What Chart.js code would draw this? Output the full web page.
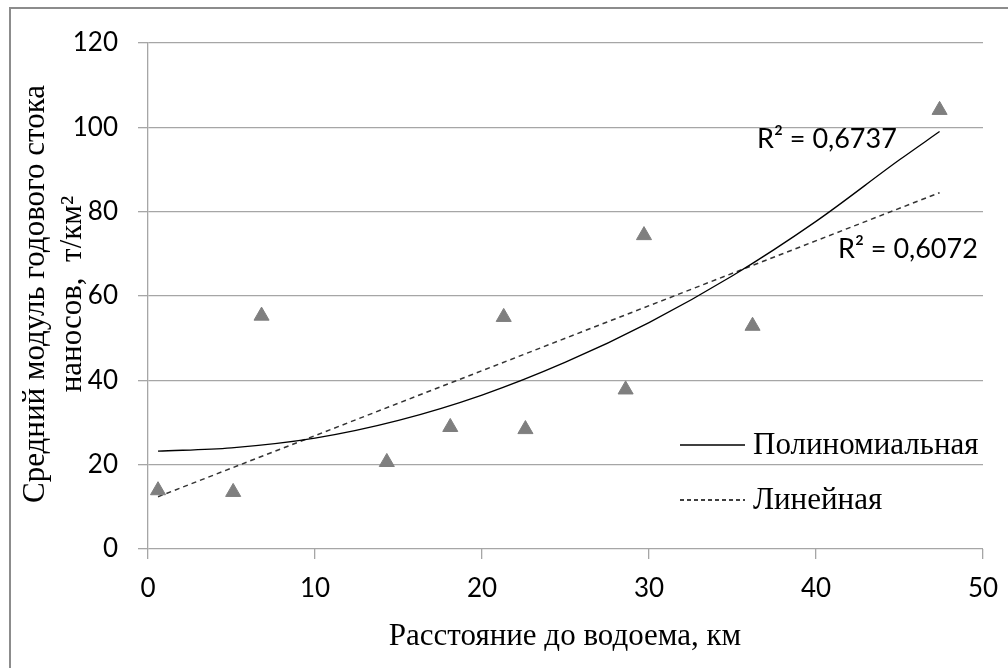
<!DOCTYPE html>
<html>
<head>
<meta charset="utf-8">
<script src="https://cdn.jsdelivr.net/npm/chart.js@4/dist/chart.umd.min.js"></script>
<style>
  html, body { margin: 0; padding: 0; background: #fff; }
  #wrap { width: 1008px; height: 668px; position: relative; }
</style>
</head>
<body>
<div id="wrap"><canvas id="chart"></canvas></div>
<script>
// measured points (distance, km -> sediment yield, t/km2)
const distKm = [0.6, 5.1, 6.8, 14.3, 18.1, 21.3, 22.6, 28.6, 29.7, 36.2, 47.4];
const yieldT = [13.9, 13.5, 55.3, 20.6, 28.9, 55.0, 28.4, 37.8, 74.4, 52.9, 104.1];

// trend lines
const polyX = [0.6, 5, 10, 15, 20, 25, 30, 35, 40, 45, 47.4];
const polyY = [23.2, 24.0, 26.3, 30.5, 36.5, 44.3, 53.7, 64.8, 77.7, 92.3, 99.0];
const linX = [0.6, 47.4];
const linY = [12.4, 84.5];

const xTicks = [0, 10, 20, 30, 40, 50];
const yTicks = [0, 20, 40, 60, 80, 100, 120];

const r2Poly = 'R² = 0,6737';
const r2Lin = 'R² = 0,6072';
const legendNames = ['Полиномиальная', 'Линейная'];
const xTitle = 'Расстояние до водоема, км';
const yTitle = ['Средний модуль годового стока', 'наносов,  т/км²'];

const toXY = (xs, ys) => xs.map((x, i) => ({ x: x, y: ys[i] }));

const serif = '"Liberation Serif", "Times New Roman", serif';
const sans = 'Lato, "Open Sans", sans-serif';
const gridGray = '#a6a6a6';

const extras = {
  id: 'extras',
  afterDraw(chart) {
    const ctx = chart.ctx;
    ctx.save();
    // outer frame
    ctx.strokeStyle = '#8c8c8c';
    ctx.lineWidth = 2;
    ctx.beginPath();
    ctx.moveTo(10, 668);
    ctx.lineTo(10, 8);
    ctx.lineTo(1008, 8);
    ctx.stroke();

    ctx.fillStyle = '#000';
    // x title
    ctx.font = '31px ' + serif;
    ctx.textAlign = 'center';
    ctx.textBaseline = 'alphabetic';
    ctx.fillText(xTitle, 565, 645);

    // y title, two rotated lines
    ctx.save();
    ctx.translate(44, 294);
    ctx.rotate(-Math.PI / 2);
    ctx.fillText(yTitle[0], 0, 0);
    ctx.fillText(yTitle[1], 0, 37);
    ctx.restore();

    // R² labels
    ctx.font = '27px ' + sans;
    ctx.textAlign = 'left';
    ctx.textBaseline = 'middle';
    ctx.fillText(r2Poly, 757, 139);
    ctx.fillText(r2Lin, 838, 249);

    // legend
    ctx.font = '31px ' + serif;
    ctx.strokeStyle = '#000';
    ctx.lineWidth = 1.3;
    ctx.beginPath();
    ctx.moveTo(680, 445);
    ctx.lineTo(745, 445);
    ctx.stroke();
    ctx.setLineDash([4, 3]);
    ctx.beginPath();
    ctx.moveTo(680, 500);
    ctx.lineTo(745, 500);
    ctx.stroke();
    ctx.setLineDash([]);
    ctx.fillText(legendNames[0], 753, 446);
    ctx.fillText(legendNames[1], 753, 501);
    ctx.restore();
  }
};

new Chart(document.getElementById('chart'), {
  type: 'scatter',
  data: {
    datasets: [
      {
        label: 'points',
        data: toXY(distKm, yieldT),
        pointStyle: 'triangle',
        pointRadius: 8.7,
        pointHoverRadius: 8.7,
        backgroundColor: '#7f7f7f',
        borderColor: '#7f7f7f',
        borderWidth: 1,
        order: 0
      },
      {
        label: legendNames[0],
        data: toXY(polyX, polyY),
        showLine: true,
        borderColor: '#000',
        borderWidth: 1.3,
        pointRadius: 0,
        cubicInterpolationMode: 'monotone',
        order: 1
      },
      {
        label: legendNames[1],
        data: toXY(linX, linY),
        showLine: true,
        borderColor: '#333',
        borderWidth: 1.5,
        borderDash: [5, 4],
        pointRadius: 0,
        order: 2
      }
    ]
  },
  options: {
    responsive: true,
    maintainAspectRatio: false,
    animation: false,
    layout: { padding: { top: 43, right: 25, left: 0, bottom: 0 } },
    plugins: {
      legend: { display: false },
      tooltip: { enabled: false }
    },
    scales: {
      x: {
        type: 'linear',
        min: 0,
        max: 50,
        afterBuildTicks: s => { s.ticks = xTicks.map(v => ({ value: v })); },
        afterFit: s => { s.height = 119; s.paddingLeft = 0; s.paddingRight = 0; },
        grid: {
          drawOnChartArea: false,
          drawTicks: true,
          tickLength: 10,
          color: gridGray,
          lineWidth: 1.3
        },
        border: { display: false },
        ticks: {
          color: '#000',
          font: { family: sans, size: 26 },
          padding: 14
        }
      },
      y: {
        type: 'linear',
        min: 0,
        max: 120,
        afterBuildTicks: s => { s.ticks = yTicks.map(v => ({ value: v })); },
        afterFit: s => { s.width = 148; s.paddingTop = 0; s.paddingBottom = 0; },
        grid: {
          drawTicks: true,
          tickLength: 10,
          color: gridGray,
          lineWidth: 1.3
        },
        border: { display: true, color: gridGray, width: 1.3 },
        ticks: {
          color: '#000',
          font: { family: sans, size: 26 },
          padding: 20
        }
      }
    }
  },
  plugins: [extras]
});
</script>
</body>
</html>
